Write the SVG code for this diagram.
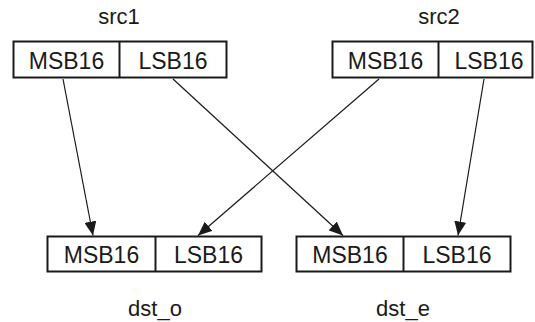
<svg xmlns="http://www.w3.org/2000/svg" width="535" height="322" viewBox="0 0 535 322">
<style>
.box{fill:#fff;stroke:#1a1a1a;stroke-width:2}
.t{font-family:"Liberation Sans",Arial,sans-serif;font-size:23px;fill:#1a1a1a;text-anchor:middle}
.lbl{font-family:"Liberation Sans",Arial,sans-serif;font-size:22px;fill:#1a1a1a;text-anchor:middle}
.c{stroke:#1a1a1a;stroke-width:1.2;fill:none;marker-end:url(#ah)}
</style>
<defs>
<marker id="ah" viewBox="0 0 14 12" refX="14" refY="6" markerWidth="14" markerHeight="12" markerUnits="userSpaceOnUse" orient="auto">
<path d="M0,0 L14,6 L0,12 Z" fill="#1a1a1a"/>
</marker>
</defs>
<rect width="535" height="322" fill="#fff"/>
<g id="src1">
<text class="lbl" x="119" y="24">src1</text>
<rect class="box" x="13.5" y="41.5" width="213" height="36"/>
<line x1="119.5" y1="41.5" x2="119.5" y2="77.5" stroke="#1a1a1a" stroke-width="2"/>
<text class="t" x="66.5" y="68.5">MSB16</text>
<text class="t" x="173" y="68.5">LSB16</text>
</g>
<g id="src2">
<text class="lbl" x="439" y="24">src2</text>
<rect class="box" x="332.5" y="41.5" width="200" height="36"/>
<line x1="438.5" y1="41.5" x2="438.5" y2="77.5" stroke="#1a1a1a" stroke-width="2"/>
<text class="t" x="385.5" y="68.5">MSB16</text>
<text class="t" x="489" y="68.5">LSB16</text>
</g>
<g id="dst_o">
<rect class="box" x="47.5" y="236.5" width="214" height="35"/>
<line x1="155.5" y1="236.5" x2="155.5" y2="271.5" stroke="#1a1a1a" stroke-width="2"/>
<text class="t" x="101.5" y="262.5">MSB16</text>
<text class="t" x="208.5" y="262.5">LSB16</text>
<text class="lbl" x="155" y="316">dst_o</text>
</g>
<g id="dst_e">
<rect class="box" x="296.5" y="236.5" width="214" height="35"/>
<line x1="403.5" y1="236.5" x2="403.5" y2="271.5" stroke="#1a1a1a" stroke-width="2"/>
<text class="t" x="350" y="262.5">MSB16</text>
<text class="t" x="457" y="262.5">LSB16</text>
<text class="lbl" x="403" y="316">dst_e</text>
</g>
<g id="connectors">
<line class="c" x1="63" y1="79" x2="93" y2="235.5"/>
<line class="c" x1="173" y1="79" x2="343" y2="235.5"/>
<line class="c" x1="379" y1="79" x2="198" y2="235.5"/>
<line class="c" x1="484" y1="79" x2="458" y2="235.5"/>
</g>
</svg>
